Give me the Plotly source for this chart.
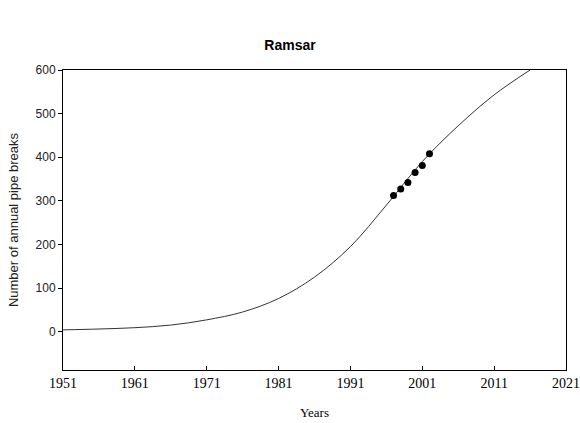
import plotly.graph_objects as go

# Fitted growth curve of annual pipe breaks
curve_years = [1951, 1956, 1961, 1966, 1971, 1976, 1981, 1986, 1991, 1996, 2001, 2006, 2011, 2016]
curve_breaks = [4, 6, 9, 15, 27, 45, 76, 125, 195, 290, 390, 472, 543, 600]

# Observed annual pipe breaks
obs_years = [1997, 1998, 1999, 2000, 2001, 2002]
obs_breaks = [312, 327, 342, 365, 381, 408]

x_ticks = [1951, 1961, 1971, 1981, 1991, 2001, 2011, 2021]
y_ticks = [0, 100, 200, 300, 400, 500, 600]

fig = go.Figure()
fig.add_trace(go.Scatter(
    x=curve_years, y=curve_breaks, mode="lines",
    line=dict(color="#333333", width=1, shape="spline"),
    showlegend=False, hoverinfo="x+y",
))
fig.add_trace(go.Scatter(
    x=obs_years, y=obs_breaks, mode="markers",
    marker=dict(color="black", size=7, symbol="circle"),
    showlegend=False,
))

fig.update_layout(
    width=580, height=423,
    margin=dict(l=63, r=14, t=70, b=53),
    paper_bgcolor="white", plot_bgcolor="white",
    title=dict(text="<b>Ramsar</b>", x=0.5, xanchor="center",
               y=0.894, yanchor="middle", yref="container",
               font=dict(family="Liberation Sans, Arial", size=14, color="black")),
    xaxis=dict(
        range=[1951, 2021], tickvals=x_ticks, ticktext=[str(v) for v in x_ticks],
        ticks="inside", ticklen=4, tickcolor="black", automargin=False,
        showline=True, linecolor="black", linewidth=1, mirror=True,
        showgrid=False, zeroline=False,
        tickfont=dict(family="Liberation Serif, Times New Roman", size=14, color="black"),
        title=dict(text="Years", standoff=18,
                   font=dict(family="Liberation Serif, Times New Roman", size=13, color="black")),
    ),
    yaxis=dict(
        range=[-88, 600], tickvals=y_ticks,
        ticks="outside", ticklen=4, tickcolor="black", automargin=False,
        showline=True, linecolor="black", linewidth=1, mirror=True,
        showgrid=False, zeroline=False,
        tickfont=dict(family="Liberation Sans, Arial", size=12, color="#222222"),
        title=dict(text="Number of annual pipe breaks", standoff=14,
                   font=dict(family="Liberation Sans, Arial", size=13, color="#222222")),
    ),
)

fig.write_html("out.html")
